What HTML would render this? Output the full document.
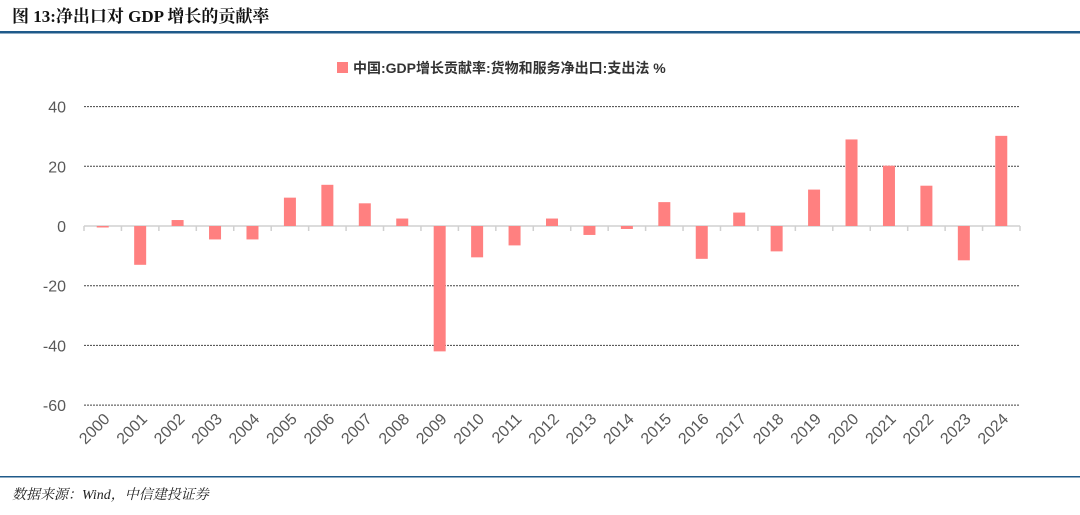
<!DOCTYPE html>
<html><head><meta charset="utf-8"><style>
body{margin:0;width:1080px;height:510px;background:#fff;overflow:hidden;font-family:"Liberation Sans","Noto Sans CJK SC",sans-serif;}
svg text{font-family:"Liberation Sans","Noto Sans CJK SC",sans-serif;}
</style></head><body>
<svg width="1080" height="510">
<text x="12" y="22" font-size="17" font-weight="bold" fill="#111" style="font-family:'Liberation Serif','Noto Serif CJK SC',serif">图 13:净出口对 GDP 增长的贡献率</text>
<rect x="0" y="31" width="1080" height="2.5" fill="#1f5a8a"/>
<rect x="337" y="62" width="11" height="11" fill="#ff8080"/>
<text x="353" y="73" font-size="14" font-weight="bold" fill="#333">中国:GDP增长贡献率:货物和服务净出口:支出法 %</text>
<g id="grid"></g><g id="bars"></g><g id="xlabels"></g>
<rect x="0" y="476" width="1080" height="1.5" fill="#1f5a8a"/>
<text x="12" y="499" font-size="14" font-style="italic" fill="#222" style="font-family:'Liberation Serif','Noto Serif CJK SC',serif">数据来源：Wind，中信建投证券</text>
</svg>
<script>
const categories=["2000","2001","2002","2003","2004","2005","2006","2007","2008","2009","2010","2011","2012","2013","2014","2015","2016","2017","2018","2019","2020","2021","2022","2023","2024"];
const values=[-0.5,-13,2,-4.5,-4.5,9.5,13.8,7.6,2.5,-42,-10.5,-6.5,2.5,-3,-1,8,-11,4.5,-8.5,12.2,29,20.2,13.5,-11.5,30.2];
const yTicks=[40,20,0,-20,-40,-60];
const NS="http://www.w3.org/2000/svg";
const x0=84,x1=1020,step=(x1-x0)/categories.length;
const y=v=>226-v*2.985;
const grid=document.getElementById('grid'),bars=document.getElementById('bars'),xl=document.getElementById('xlabels');
function mk(tag,a,p){const e=document.createElementNS(NS,tag);for(const k in a)e.setAttribute(k,a[k]);p.appendChild(e);return e;}
yTicks.forEach(t=>{
 if(t!==0){const l=mk('line',{x1:x0,x2:x1,y1:y(t),y2:y(t),stroke:'#444','stroke-width':1,'stroke-dasharray':'2,1'},grid);
 
 }
 const tx=mk('text',{x:66,y:y(t)+6,'font-size':16,fill:'#595959','text-anchor':'end'},grid);tx.textContent=t;
 
 
});
categories.forEach((c,i)=>{
 const cx=x0+step*(i+0.5),v=values[i];
 const r=mk('rect',{x:cx-6,y:Math.min(y(v),y(0)),width:12,height:Math.abs(y(v)-y(0)),fill:'#ff8080'},bars);
 
 
 const t=mk('text',{x:cx+8,y:420,'font-size':16,fill:'#595959','text-anchor':'end',transform:`rotate(-45 ${cx+8} 420)`},xl);t.textContent=c;
 
 
});
const ax=mk('line',{x1:x0,x2:x1,y1:y(0),y2:y(0),stroke:'#d0d0d0','stroke-width':1.5},grid);


for(let i=0;i<=categories.length;i++){const tk=mk('line',{x1:x0+step*i,x2:x0+step*i,y1:y(0),y2:y(0)+5,stroke:'#d0d0d0','stroke-width':1.5},grid);
 
 }
</script>
</body></html>
